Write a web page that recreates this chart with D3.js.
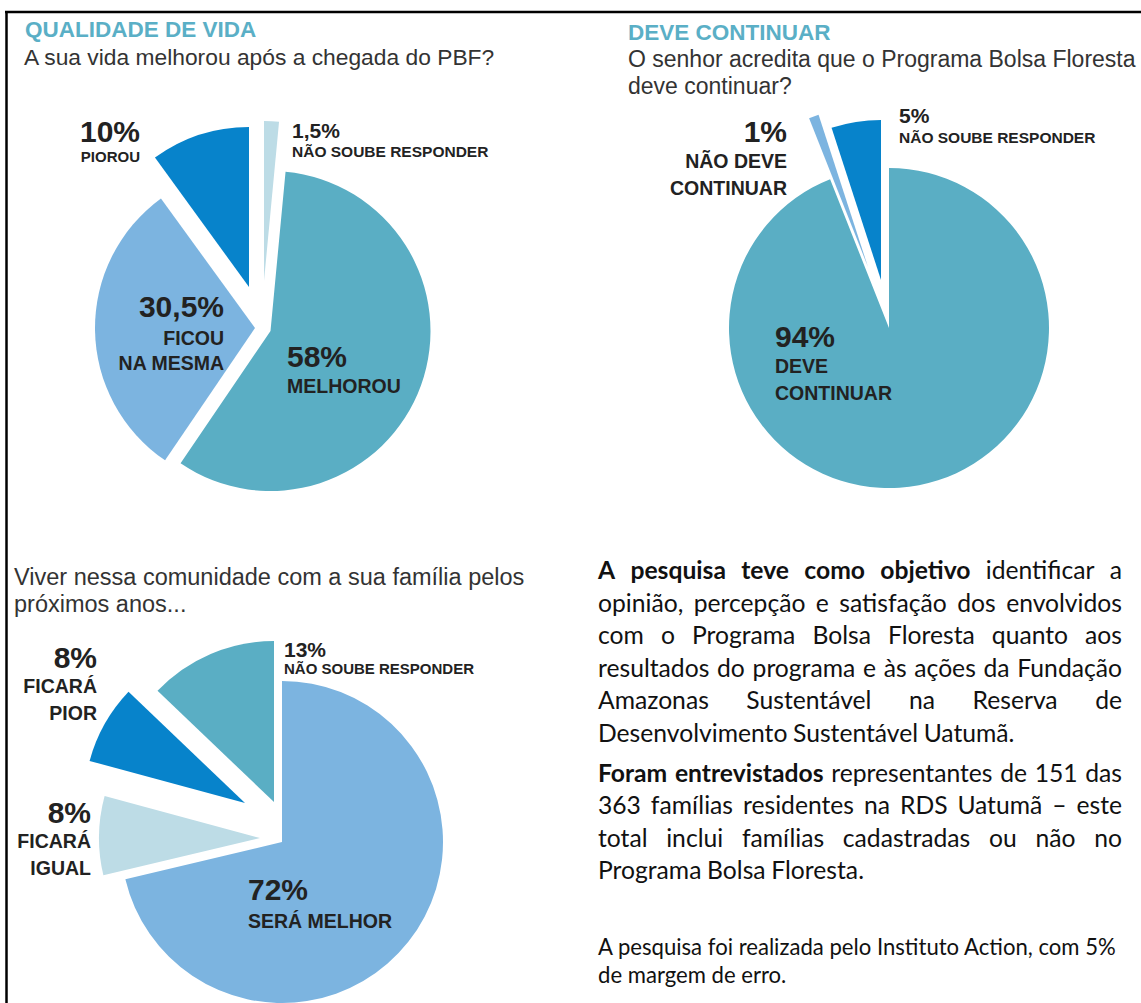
<!DOCTYPE html>
<html>
<head>
<meta charset="utf-8">
<script src="https://d3js.org/d3.v7.min.js"></script>
<style>
body { margin: 0; background: #fff; }
svg { display: block; }
</style>
</head>
<body>
<script>
// ---- data ----
var vidaCategories = [["NÃO SOUBE RESPONDER"], ["MELHOROU"], ["FICOU", "NA MESMA"], ["PIOROU"]];
var vidaValues = [1.5, 58, 30.5, 10];

var continuarCategories = [["DEVE", "CONTINUAR"], ["NÃO DEVE", "CONTINUAR"], ["NÃO SOUBE RESPONDER"]];
var continuarValues = [94, 1, 5];

var futuroCategories = [["SERÁ MELHOR"], ["FICARÁ", "IGUAL"], ["FICARÁ", "PIOR"], ["NÃO SOUBE RESPONDER"]];
var futuroValues = [72, 8, 8, 13];

var titles = ["QUALIDADE DE VIDA", "DEVE CONTINUAR"];
var questions = [
  ["A sua vida melhorou após a chegada do PBF?"],
  ["O senhor acredita que o Programa Bolsa Floresta", "deve continuar?"],
  ["Viver nessa comunidade com a sua família pelos", "próximos anos..."]
];

var paragraph1 = [
  [["A pesquisa teve como objetivo", true], ["identificar a", false]],
  [["opinião, percepção e satisfação dos envolvidos", false]],
  [["com o Programa Bolsa Floresta quanto aos", false]],
  [["resultados do programa e às ações da Fundação", false]],
  [["Amazonas Sustentável na Reserva de", false]],
  [["Desenvolvimento Sustentável Uatumã.", false]]
];
var paragraph2 = [
  [["Foram entrevistados", true], ["representantes de 151 das", false]],
  [["363 famílias residentes na RDS Uatumã – este", false]],
  [["total inclui famílias cadastradas ou não no", false]],
  [["Programa Bolsa Floresta.", false]]
];
var footnote = ["A pesquisa foi realizada pelo Instituto Action, com 5%", "de margem de erro."];

// ---- drawing ----
var W = 1141, H = 1003;
var teal = "#5aaec4", light = "#7cb4e0", dark = "#0783cb", pale = "#bddce6";
var ink = "#222", sans = "'Liberation Sans', Arial, sans-serif";

var svg = d3.select("body").append("svg").attr("width", W).attr("height", H);

svg.append("line").attr("x1", 5).attr("x2", W).attr("y1", 12).attr("y2", 12)
  .attr("stroke", "#000").attr("stroke-width", 2.5);
svg.append("line").attr("x1", 6.5).attr("x2", 6.5).attr("y1", 11).attr("y2", H)
  .attr("stroke", "#000").attr("stroke-width", 2.5);

var fmt = function (v) { return String(v).replace(".", ",") + "%"; };

function drawPie(cfg) {
  var pie = d3.pie().sort(null).value(function (d) { return d; });
  var arc = d3.arc().innerRadius(0).outerRadius(cfg.r);
  var g = svg.append("g").attr("transform", "translate(" + cfg.cx + "," + cfg.cy + ")");

  g.selectAll("path").data(pie(cfg.values)).join("path")
    .attr("transform", function (d, i) { return "translate(" + cfg.explode[i] + ")"; })
    .attr("d", arc)
    .attr("fill", function (d, i) { return cfg.colors[i]; });

  var lab = svg.append("g").attr("font-family", sans).attr("font-weight", "bold").attr("fill", ink);
  cfg.values.forEach(function (v, i) {
    var p = cfg.labels[i];
    lab.append("text").attr("x", p.x).attr("y", p.y).attr("text-anchor", p.anchor)
      .attr("font-size", p.num).text(fmt(v));
    cfg.categories[i].forEach(function (line, k) {
      lab.append("text").attr("x", p.x).attr("y", p.y + p.dy[k]).attr("text-anchor", p.anchor)
        .attr("font-size", p.txt).text(line);
    });
  });
}

drawPie({
  values: vidaValues, categories: vidaCategories,
  cx: 262, cy: 328, r: 160,
  colors: [pale, teal, light, dark],
  explode: [[2, -47], [8.5, 3], [-7, 0], [-13, -41]],
  labels: [
    { x: 292, y: 138, anchor: "start", num: 21, txt: 15.5, dy: [19] },
    { x: 287, y: 367, anchor: "start", num: 30, txt: 19.5, dy: [26] },
    { x: 224, y: 317, anchor: "end", num: 30, txt: 19.5, dy: [28, 53] },
    { x: 140, y: 142, anchor: "end", num: 30, txt: 15, dy: [20] }
  ]
});

drawPie({
  values: continuarValues, categories: continuarCategories,
  cx: 888, cy: 323, r: 160,
  colors: [teal, light, dark],
  explode: [[1, 5], [-20, -56], [-7, -43]],
  labels: [
    { x: 775, y: 347, anchor: "start", num: 30, txt: 19.5, dy: [26, 53] },
    { x: 787, y: 142, anchor: "end", num: 30, txt: 19.5, dy: [26, 53] },
    { x: 899, y: 123, anchor: "start", num: 21, txt: 15.5, dy: [20] }
  ]
});

drawPie({
  values: futuroValues, categories: futuroCategories,
  cx: 280, cy: 840, r: 161,
  colors: [light, pale, dark, teal],
  explode: [[2, 2], [-20, -2], [-35, -37], [-6, -38]],
  labels: [
    { x: 248, y: 900, anchor: "start", num: 30, txt: 19.5, dy: [28] },
    { x: 91, y: 823, anchor: "end", num: 30, txt: 19.5, dy: [25, 52] },
    { x: 97, y: 668, anchor: "end", num: 30, txt: 19.5, dy: [25, 52] },
    { x: 284, y: 657, anchor: "start", num: 21, txt: 15, dy: [17] }
  ]
});

// titles and questions
var head = svg.append("g").attr("font-family", sans);
head.append("text").attr("x", 25).attr("y", 37).attr("font-size", 22.5).attr("font-weight", "bold")
  .attr("fill", "#5aafc6").text(titles[0]);
head.append("text").attr("x", 628).attr("y", 40).attr("font-size", 22.5).attr("font-weight", "bold")
  .attr("fill", "#5aafc6").text(titles[1]);
var qPos = [[24, 65, 22.8], [628, 67, 23], [14, 585, 23.5]];
questions.forEach(function (lines, i) {
  lines.forEach(function (line, k) {
    head.append("text").attr("x", qPos[i][0]).attr("y", qPos[i][1] + k * 27)
      .attr("font-size", qPos[i][2]).attr("fill", "#333").text(line);
  });
});

// justified paragraph text
var body = svg.append("g").attr("font-family", "Lato, 'Open Sans', sans-serif").attr("fill", "#111");
var left = 598, right = 1122;

var probe = body.append("text").attr("font-size", 20).text("Desenvolvimento Sustentável Uatumã.");
var bodySize = 20 * 418 / probe.node().getComputedTextLength();
probe.remove();

function drawParagraph(lines, y0, lead) {
  lines.forEach(function (segs, li) {
    var y = y0 + li * lead;
    var words = [];
    segs.forEach(function (s) {
      s[0].split(" ").forEach(function (w) { words.push({ t: w, b: s[1] }); });
    });
    var nodes = words.map(function (w) {
      return body.append("text").attr("y", y).attr("font-size", bodySize)
        .attr("font-weight", w.b ? "bold" : "normal").text(w.t);
    });
    var widths = nodes.map(function (n) { return n.node().getComputedTextLength(); });
    var total = d3.sum(widths);
    var last = li === lines.length - 1;
    var gap = last ? bodySize * 0.23 : (right - left - total) / (words.length - 1);
    var x = left;
    nodes.forEach(function (n, k) { n.attr("x", x); x += widths[k] + gap; });
  });
}
drawParagraph(paragraph1, 579, 32.6);
drawParagraph(paragraph2, 782, 32.3);

var probe2 = body.append("text").attr("font-size", 18).text(footnote[0]);
var footSize = 18 * 518 / probe2.node().getComputedTextLength();
probe2.remove();
footnote.forEach(function (line, k) {
  body.append("text").attr("x", left).attr("y", 955 + k * 28).attr("font-size", footSize).text(line);
});
</script>
</body>
</html>
